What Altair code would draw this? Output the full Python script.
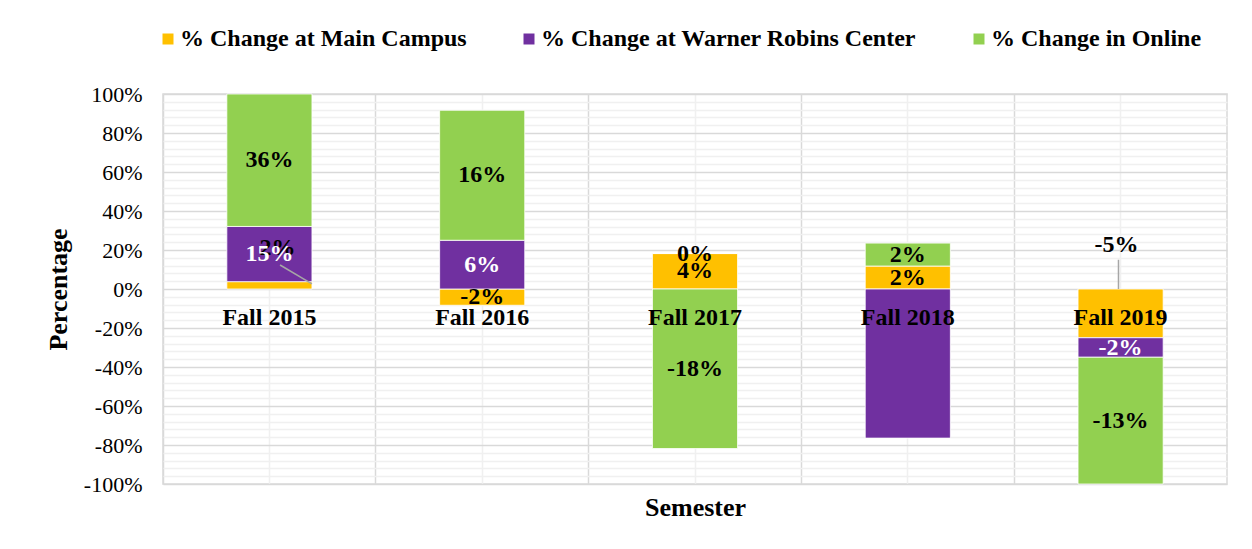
import altair as alt
import pandas as pd

# ---------------- data ----------------
semesters = ["Fall 2015", "Fall 2016", "Fall 2017", "Fall 2018", "Fall 2019"]
series_names = ["% Change at Main Campus", "% Change at Warner Robins Center", "% Change in Online"]
main_campus = [2, -2, 4, 2, -5]
warner_robins = [15, 6, 0, -13, -2]
online = [36, 16, -18, 2, -13]
colors = ["#FFC000", "#7030A0", "#92D050"]

hidden_labels = [("Fall 2018", "% Change at Warner Robins Center")]
callouts = [("Fall 2015", "% Change at Main Campus"), ("Fall 2019", "% Change at Main Campus")]
callout_label_y = [0.21, 0.226]

rows = []
for i, s in enumerate(semesters):
    for k, vals in enumerate([main_campus, warner_robins, online]):
        rows.append({"semester": s, "series": series_names[k], "order": k, "value": vals[i]})
df = pd.DataFrame(rows)

skip = set(hidden_labels) | set(callouts)
df["plain_label"] = [(r.semester, r.series) not in skip for r in df.itertuples()]

lookup_val = {(r.semester, r.series): r.value for r in df.itertuples()}
call_dfs = [
    pd.DataFrame([{"semester": s, "series": n, "label_y": y, "text": f"{lookup_val[(s, n)]}%"}])
    for (s, n), y in zip(callouts, callout_label_y)
]

FONT = "Liberation Serif"
H = 390
W = 1064
minor_vals = [round(-1 + 0.04 * i, 2) for i in range(51) if i % 5 != 0]
major_vals = [round(-1 + 0.2 * i, 1) for i in range(11)]

xscale = alt.Scale(domain=semesters, paddingInner=0, paddingOuter=0)
yscale = alt.Scale(domain=[-1, 1], nice=False, zero=False)

base = (
    alt.Chart(df)
    .transform_calculate(absval="abs(datum.value)")
    .transform_joinaggregate(total="sum(absval)", groupby=["semester"])
    .transform_calculate(share="datum.value / datum.total")
    .transform_stack(stack="share", as_=["y0", "y1"], groupby=["semester"],
                     sort=[alt.SortField("order", order="ascending")])
    .transform_calculate(mid="(datum.y0 + datum.y1) / 2", label="datum.value + '%'")
)

bars = base.mark_bar(width=alt.RelativeBandSize(0.4), stroke="white", strokeWidth=0.8).encode(
    x=alt.X("semester:N", sort=semesters, scale=xscale,
            axis=alt.Axis(orient="bottom", grid=True, bandPosition=0, gridColor="#D9D9D9",
                          gridWidth=1.5, labels=False, ticks=False, domain=False, title=None)),
    y=alt.Y("y0:Q", scale=yscale,
            axis=alt.Axis(orient="left", values=major_vals,
                          labelExpr="round(datum.value * 100) + '%'",
                          grid=True, gridColor="#D9D9D9", gridWidth=1.5,
                          ticks=False, domain=False,
                          labelFont=FONT, labelFontSize=22, labelColor="black", labelPadding=21,
                          title="Percentage", titleFont=FONT, titleFontSize=26,
                          titleFontWeight="bold", titleColor="black",
                          titleX=-105, titleY=H / 2, titleAngle=270,
                          titleAlign="center", titleBaseline="middle")),
    y2="y1:Q",
    color=alt.Color("series:N", scale=alt.Scale(domain=series_names, range=colors),
                    legend=alt.Legend(orient="none", legendX=-7, legendY=-67,
                                      direction="horizontal", title=None,
                                      symbolType="square", symbolSize=121,
                                      symbolStrokeWidth=0,
                                      labelFont=FONT, labelFontSize=24,
                                      labelFontWeight="bold", labelColor="black",
                                      labelOffset=0, columnPadding=50, padding=0,
                                      labelLimit=0)),
)

labels = base.transform_filter("datum.plain_label").mark_text(
    font=FONT, fontSize=24, fontWeight="bold", baseline="middle", align="center"
).encode(
    x=alt.X("semester:N", sort=semesters, scale=xscale,
            axis=alt.Axis(orient="top", grid=True, bandPosition=0.5, gridColor="#F0F0F0",
                          gridWidth=1.5, labels=False, ticks=False, domain=False, title=None)),
    y=alt.Y("mid:Q", scale=yscale,
            axis=alt.Axis(orient="right", values=minor_vals, grid=True, gridColor="#F0F0F0",
                          gridWidth=1.5, labels=False, ticks=False, domain=False, title=None)),
    text="label:N",
    color=alt.condition(
        (alt.datum.series == series_names[1]) & (alt.datum.value != 0),
        alt.value("white"), alt.value("black")),
)

call_dx = [8, -4]
call_texts = [
    alt.Chart(cdf).mark_text(
        font=FONT, fontSize=24, fontWeight="bold", baseline="middle", align="center",
        color="black", dx=dx
    ).encode(
        x=alt.X("semester:N", sort=semesters, scale=xscale, axis=None),
        y=alt.Y("label_y:Q", scale=yscale, axis=None),
        text="text:N",
    )
    for cdf, dx in zip(call_dfs, call_dx)
]

# leader lines from callout labels to their segments
lead1_df = pd.DataFrame({"semester": [callouts[0][0]], "ya": [0.123], "yb": [0.026]})
lead2_df = pd.DataFrame({"semester": [callouts[1][0]], "ya": [0.15], "yb": [0.0]})

lead1 = alt.Chart(lead1_df).mark_rule(color="#A6A6A6", strokeWidth=1.5).encode(
    x=alt.X("semester:N", sort=semesters, scale=xscale, bandPosition=0.55,
            axis=alt.Axis(orient="bottom", offset=-H / 2, grid=False, ticks=False, tickSize=0,
                          domain=False, labelAngle=0,
                          labelFont=FONT, labelFontSize=24, labelFontWeight="bold",
                          labelColor="black", labelPadding=16, zindex=2,
                          title="Semester", titleFont=FONT, titleFontSize=26,
                          titleFontWeight="bold", titleColor="black",
                          titleX=W / 2, titleY=226, titleAlign="center",
                          titleBaseline="alphabetic")),
    x2=alt.X2("semester", bandPosition=0.70),
    y=alt.Y("ya:Q", scale=yscale, axis=None),
    y2="yb:Q",
)

lead2 = alt.Chart(lead2_df).mark_rule(color="#A6A6A6", strokeWidth=1.5).encode(
    x=alt.X("semester:N", sort=semesters, scale=xscale, bandPosition=0.49, axis=None),
    y=alt.Y("ya:Q", scale=yscale, axis=None),
    y2="yb:Q",
)

chart = (
    alt.layer(bars, call_texts[0], call_texts[1], labels, lead1, lead2)
    .resolve_axis(x="independent", y="independent")
    .properties(width=W, height=H,
                autosize=alt.AutoSizeParams(type="none"),
                padding={"left": 155, "top": 86, "right": 17, "bottom": 57})
    .configure_view(stroke="#D9D9D9", strokeWidth=1.5)
)

chart.save("out.html", embed_options={"renderer": "svg", "actions": False})
